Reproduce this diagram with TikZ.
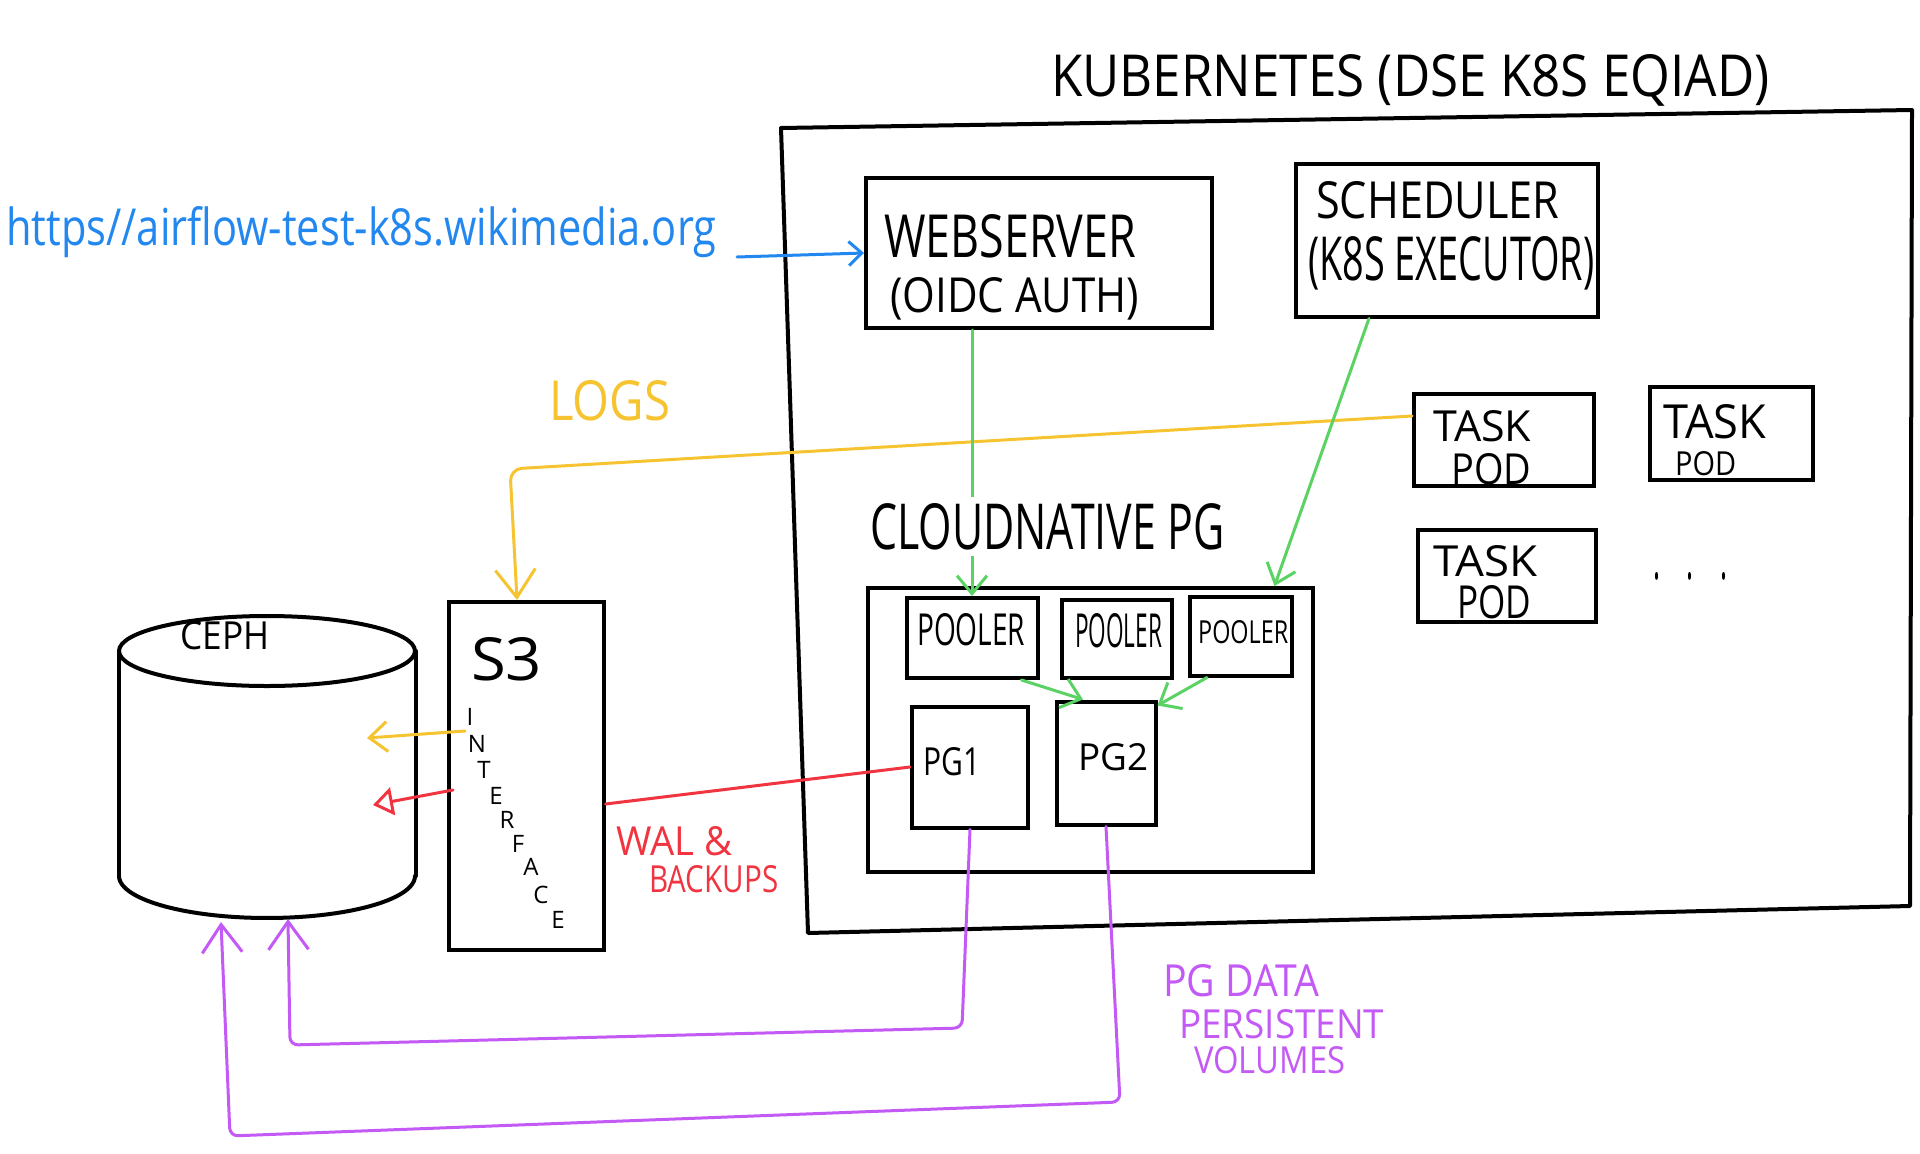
\documentclass[tikz,border=0pt]{standalone}
\usepackage{fontspec}
\setmainfont{Open Sans}
\usepackage{graphicx}
\usetikzlibrary{arrows.meta,calc}
\definecolor{hwblue}{RGB}{34,136,240}
\definecolor{hwyellow}{RGB}{246,196,48}
\definecolor{hwgreen}{RGB}{90,210,100}
\definecolor{hwred}{RGB}{240,52,64}
\definecolor{hwpurple}{RGB}{196,90,245}
\newcommand\hwtext[3]{\resizebox{#1pt}{#2pt}{#3}}
\begin{document}
\begin{tikzpicture}[x=1pt,y=-1pt,
  box/.style={draw, line width=4pt, rectangle, inner sep=0pt},
  lbl/.style={anchor=base west, inner sep=0pt},
  conn/.style={line width=3pt, line cap=round, line join=round},
  barb/.style={-{Straight Barb[length=18pt,width=30pt]}},
  bigbarb/.style={-{Straight Barb[length=28pt,width=40pt]}},
  smallbarb/.style={-{Straight Barb[length=13pt,width=24pt]}},
  openhead/.style={-{Triangle[open,length=20pt,width=28pt]}},
  letter/.style={inner sep=0pt, font=\fontsize{24}{26}\selectfont}
]
\fill[white] (0,0) rectangle (1920,1154);
\useasboundingbox (0,0) rectangle (1920,1154);

% Kubernetes frame
\draw[line width=4pt, line join=round] (781,128) -- (1912,110) -- (1910,906) -- (808,933) -- cycle;
\node[lbl] (title) at (1051,96) {\hwtext{718}{42}{KUBERNETES (DSE K8S EQIAD)}};

% URL
\node[lbl, text=hwblue] (url) at (6,245) {\hwtext{710}{39}{https//airflow-test-k8s.wikimedia.org}};
\coordinate (urlend) at (737,257);

% Webserver & scheduler
\node[box, minimum width=346pt, minimum height=150pt] (web) at (1039,253) {};
\node[lbl] (webt1) at (884,257) {\hwtext{252}{43}{WEBSERVER}};
\node[lbl] (webt2) at (890,312) {\hwtext{249}{35}{(OIDC AUTH)}};
\node[box, minimum width=302pt, minimum height=153pt] (sched) at (1447,240) {};
\node[lbl] (scht1) at (1316,218) {\hwtext{243}{37}{SCHEDULER}};
\node[lbl] (scht2) at (1308,280) {\hwtext{286}{44}{(K8S EXECUTOR)}};

% Task pods
\node[box, minimum width=180pt, minimum height=92pt] (task1) at (1504,440) {};
\node[lbl] (task1a) at (1433,441) {\hwtext{98}{31}{TASK}};
\node[lbl] (task1b) at (1451,484) {\hwtext{80}{31}{POD}};
\node[box, minimum width=163pt, minimum height=93pt] (task2) at (1731,433) {};
\node[lbl] (task2a) at (1663,438) {\hwtext{103}{34}{TASK}};
\node[lbl] (task2b) at (1675,475) {\hwtext{61}{24}{POD}};
\node[box, minimum width=178pt, minimum height=92pt] (task3) at (1507,576) {};
\node[lbl] (task3a) at (1433,576) {\hwtext{104}{31}{TASK}};
\node[lbl] (task3b) at (1457,618) {\hwtext{74}{33}{POD}};
\node[lbl] (dots) at (1653,579) {\hwtext{74}{7}{.\hspace{1em}.\hspace{1em}.}};

% CloudNative PG
\node[box, minimum width=445pt, minimum height=284pt] (cnpg) at (1090,730) {};
\node[box, minimum width=131pt, minimum height=80pt] (pooler1) at (972,638) {};
\node[box, minimum width=110pt, minimum height=78pt] (pooler2) at (1117,639) {};
\node[box, minimum width=102pt, minimum height=79pt] (pooler3) at (1241,636) {};
\node[lbl] (pt1) at (917,645) {\hwtext{108}{32}{POOLER}};
\node[lbl] (pt2) at (1075,647) {\hwtext{87}{34}{POOLER}};
\node[lbl] (pt3) at (1198,643) {\hwtext{90}{23}{POOLER}};
\node[box, minimum width=116pt, minimum height=121pt] (pg1) at (970,767) {};
\node[box, minimum width=99pt, minimum height=123pt] (pg2) at (1106,763) {};
\node[lbl] (pg1t) at (923,775) {\hwtext{57}{28}{PG1}};
\node[lbl] (pg2t) at (1078,770) {\hwtext{70}{27}{PG2}};

% S3
\node[box, minimum width=155pt, minimum height=348pt] (s3) at (526,776) {};
\node[lbl] (s3t) at (471,680) {\hwtext{71}{43}{S3}};
\node[letter] (i1) at (470,717) {I};
\node[letter] (i2) at (477,744) {N};
\node[letter] (i3) at (484,770) {T};
\node[letter] (i4) at (496,796) {E};
\node[letter] (i5) at (507,820) {R};
\node[letter] (i6) at (518,844) {F};
\node[letter] (i7) at (531,867) {A};
\node[letter] (i8) at (541,895) {C};
\node[letter] (i9) at (558,920) {E};

% Ceph cylinder
\node[minimum width=297pt, minimum height=302pt, inner sep=0pt] (ceph) at (267.5,767) {};
\draw[line width=4pt] (267,651) ellipse [x radius=148, y radius=35];
\draw[line width=4pt, line cap=round] (119,651) -- (119,876);
\draw[line width=4pt, line cap=round] (416,651) -- (416,876);
\draw[line width=4pt, line cap=round] plot[domain=180:360, samples=50] ({267+148*cos(\x)}, {876-42*sin(\x)});
\node[lbl] (ceph t) at (180,649) {\hwtext{89}{28}{CEPH}};
\coordinate (ceph1) at (288,919);
\coordinate (ceph2) at (221,922);

% Blue request
\draw[conn, hwblue, smallbarb] (urlend) -- (web.west);

% Logs (yellow)
\coordinate (logcorner) at (510,469);
\draw[conn, hwyellow, bigbarb, rounded corners=12pt] ([yshift=24pt]task1.west) -- (logcorner) -- ([xshift=-9pt]s3.north);
\node[lbl, text=hwyellow] (logs) at (549,420) {\hwtext{121}{40}{LOGS}};
\coordinate (yin) at (465,731);
\coordinate (yout) at (367,738);
\draw[conn, hwyellow, barb] (yin) -- (yout);

% WAL & backups (red)
\draw[conn, hwred] (pg1.west) -- ([yshift=-28pt]s3.east);
\coordinate (rin) at (453,790);
\coordinate (rout) at (373,805);
\draw[conn, hwred, openhead] (rin) -- (rout);
\node[lbl, text=hwred] (wal) at (616,855) {\hwtext{116}{29}{WAL \&}};
\node[lbl, text=hwred] (backups) at (649,892) {\hwtext{129}{27}{BACKUPS}};

% Green connections
\draw[conn, hwgreen, barb] (pooler1.north |- web.south) -- (pooler1.north);
\node[lbl, fill=white, inner sep=6pt] (cnpgt) at (864,549) {\hwtext{354}{46}{CLOUDNATIVE PG}};
\draw[conn, hwgreen, barb] ([xshift=-78pt]sched.south) -- ([xshift=-40pt]cnpg.north east);
\draw[conn, hwgreen, barb] ([xshift=-18pt]pooler1.south east) -- ([xshift=-23pt]pg2.north);
\draw[conn, hwgreen, barb] ([xshift=-34pt]pooler3.south) -- ([yshift=-6pt]pg2.north east);

% Persistent volumes (purple)
\coordinate (p1a) at (962,1028);
\coordinate (p1b) at (290,1045);
\coordinate (p2a) at (1120,1102);
\coordinate (p2b) at (230,1136);
\draw[conn, hwpurple, bigbarb, rounded corners=8pt] (pg1.south) -- (p1a) -- (p1b) -- (ceph1);
\draw[conn, hwpurple, bigbarb, rounded corners=8pt] (pg2.south) -- (p2a) -- (p2b) -- (ceph2);
\node[lbl, text=hwpurple] (pgdata) at (1163,996) {\hwtext{156}{32}{PG DATA}};
\node[lbl, text=hwpurple] (persist) at (1179,1038) {\hwtext{205}{29}{PERSISTENT}};
\node[lbl, text=hwpurple] (volumes) at (1194,1073) {\hwtext{151}{27}{VOLUMES}};
\end{tikzpicture}
\end{document}
